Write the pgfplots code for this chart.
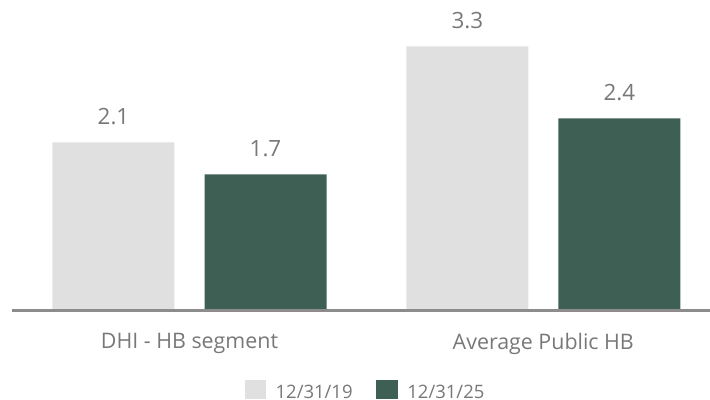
\documentclass[border=0pt]{standalone}
\usepackage{fontspec}
\setmainfont{Open Sans}
\usepackage{pgfplots}
\pgfplotsset{compat=1.18}
\definecolor{lightbar}{RGB}{224,224,224}
\definecolor{darkbar}{RGB}{62,96,84}
\definecolor{txt}{RGB}{120,120,120}
\definecolor{axl}{RGB}{140,140,140}
\begin{document}
\begin{tikzpicture}
\useasboundingbox (0,0) rectangle (710bp,400bp);
\begin{axis}[
  at={(12bp,89.5bp)}, anchor=south west,
  scale only axis, width=698bp, height=310.5bp,
  xmin=-0.5017, xmax=1.4712, ymin=0, ymax=3.88,
  axis x line=bottom, axis y line=none,
  axis line style={-, draw=axl, line width=2bp},
  ybar, bar width=122bp,
  xtick={0,1}, xticklabels={DHI - HB segment, Average Public HB},
  major tick length=0pt,
  xticklabel style={font=\fontsize{21.4bp}{26bp}\selectfont, text=txt, inner sep=0pt, yshift=-22.5bp},
  ytick=\empty,
  nodes near coords={\pgfmathprintnumber[fixed,fixed zerofill,precision=1,assume math mode=true]{\pgfplotspointmeta}},
  every node near coord/.append style={font=\fontsize{22.4bp}{27bp}\selectfont, text=txt, inner sep=0pt, anchor=south, yshift=17bp},
  legend columns=2,
  legend style={at={(0.505,-0.2551)}, anchor=center, draw=none, fill=none,
    font=\fontsize{18.5bp}{22bp}\selectfont, text=txt, inner sep=0pt, outer sep=0pt,
    nodes={inner sep=0pt, anchor=center, text height=13.3bp, text depth=0pt},
    /tikz/every odd column/.append style={column sep=9.3bp},
    /tikz/every even column/.append style={column sep=23.7bp}},
  legend image code/.code={\fill[#1] (0bp,-7.7bp) rectangle (21.7bp,11.7bp);},
  axis on top,
]
\addplot[fill=lightbar, draw=none, bar shift=-76bp] coordinates {(0,2.1) (1,3.3)};
\addplot[fill=darkbar, draw=none, bar shift=76bp] coordinates {(0,1.7) (1,2.4)};
\legend{12/31/19, 12/31/25}
\end{axis}
\end{tikzpicture}
\end{document}
